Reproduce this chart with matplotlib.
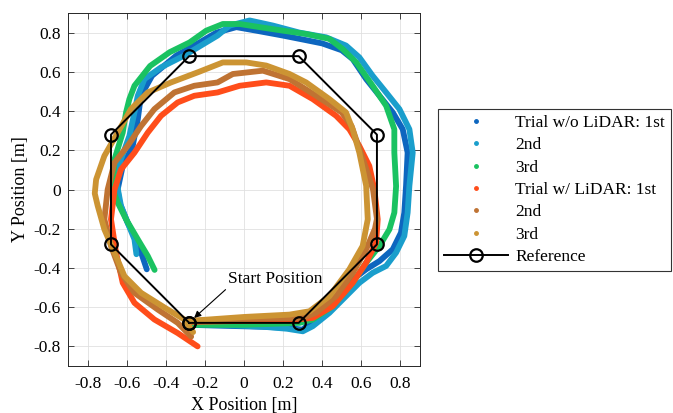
import matplotlib
matplotlib.use("Agg")
import matplotlib.pyplot as plt
from matplotlib.lines import Line2D

plt.rcParams['font.family'] = ['Liberation Serif', 'DejaVu Serif']
plt.rcParams['mathtext.fontset'] = 'stix'

# ---------------- data ----------------
wo1_x = [-0.28, -0.10, 0.10, 0.22, 0.30, 0.403, 0.488, 0.556, 0.625, 0.693, 0.761, 0.803, 0.82, 0.829,
         0.837, 0.812, 0.761, 0.693, 0.625, 0.556, 0.50, 0.40, 0.30, 0.199, 0.063, -0.039, -0.141, -0.227,
         -0.346, -0.47, -0.527, -0.543, -0.569, -0.62, -0.646, -0.637, -0.595, -0.543, -0.497]
wo1_y = [-0.69, -0.695, -0.70, -0.705, -0.715, -0.621, -0.527, -0.459, -0.407, -0.365, -0.305, -0.22, -0.118, 0.02,
         0.188, 0.307, 0.393, 0.478, 0.563, 0.665, 0.71, 0.745, 0.765, 0.785, 0.81, 0.828, 0.80, 0.75,
         0.683, 0.58, 0.478, 0.358, 0.222, 0.12, 0.0, -0.066, -0.169, -0.271, -0.407]

wo2_x = [-0.28, -0.10, 0.10, 0.22, 0.301, 0.352, 0.437, 0.522, 0.59, 0.658, 0.727, 0.778, 0.82, 0.837,
         0.846, 0.863, 0.846, 0.795, 0.727, 0.658, 0.59, 0.522, 0.42, 0.284, 0.148, 0.029, -0.073, -0.135,
         -0.22, -0.305, -0.424, -0.509, -0.543, -0.56, -0.586, -0.629, -0.654, -0.629, -0.595, -0.56, -0.55]
wo2_y = [-0.685, -0.69, -0.70, -0.71, -0.723, -0.697, -0.629, -0.544, -0.476, -0.425, -0.39, -0.322, -0.237, -0.118,
         0.019, 0.188, 0.307, 0.41, 0.495, 0.58, 0.674, 0.734, 0.776, 0.80, 0.836, 0.862, 0.836, 0.785,
         0.734, 0.683, 0.623, 0.563, 0.478, 0.393, 0.273, 0.154, 0.051, -0.083, -0.169, -0.254, -0.33]

wo3_x = [-0.28, 0.0, 0.284, 0.352, 0.454, 0.556, 0.625, 0.693, 0.744, 0.769, 0.778, 0.769, 0.769, 0.727,
         0.658, 0.574, 0.505, 0.437, 0.318, 0.199, 0.08, -0.022, -0.108, -0.193, -0.278, -0.38, -0.48,
         -0.56, -0.586, -0.603, -0.62, -0.662, -0.671, -0.646, -0.603, -0.543, -0.492, -0.457]
wo3_y = [-0.69, -0.69, -0.68, -0.663, -0.595, -0.476, -0.373, -0.288, -0.203, -0.118, 0.017, 0.188, 0.307, 0.427,
         0.529, 0.648, 0.716, 0.768, 0.793, 0.81, 0.828, 0.844, 0.844, 0.81, 0.75, 0.70, 0.63,
         0.529, 0.461, 0.393, 0.29, 0.154, 0.0, -0.066, -0.152, -0.254, -0.339, -0.41]

w1_x = [-0.28, 0.0, 0.25, 0.352, 0.454, 0.556, 0.625, 0.676, 0.684, 0.667, 0.641, 0.59, 0.539, 0.471,
        0.352, 0.233, 0.114, -0.022, -0.135, -0.254, -0.339, -0.424, -0.492, -0.56, -0.629, -0.662, -0.68,
        -0.654, -0.62, -0.56, -0.458, -0.339, -0.237]
w1_y = [-0.675, -0.67, -0.665, -0.655, -0.595, -0.476, -0.373, -0.271, -0.152, 0.0, 0.12, 0.222, 0.307, 0.376,
        0.461, 0.529, 0.546, 0.529, 0.495, 0.478, 0.444, 0.376, 0.29, 0.188, 0.102, 0.0, -0.152,
        -0.322, -0.476, -0.578, -0.663, -0.732, -0.80]

w2_x = [-0.28, 0.0, 0.301, 0.369, 0.471, 0.556, 0.625, 0.67, 0.68, 0.66, 0.62, 0.585, 0.55, 0.50, 0.369,
        0.233, 0.097, -0.057, -0.135, -0.254, -0.356, -0.458, -0.526, -0.595, -0.662, -0.697, -0.714, -0.68,
        -0.629, -0.56, -0.441, -0.339, -0.27]
w2_y = [-0.67, -0.66, -0.655, -0.629, -0.544, -0.425, -0.305, -0.20, -0.15, 0.0, 0.12, 0.222, 0.324, 0.393, 0.478,
        0.563, 0.606, 0.589, 0.546, 0.529, 0.495, 0.41, 0.324, 0.222, 0.137, 0.0, -0.152, -0.288,
        -0.425, -0.527, -0.612, -0.68, -0.75]

w3_x = [-0.28, 0.0, 0.233, 0.335, 0.437, 0.539, 0.607, 0.633, 0.625, 0.59, 0.556, 0.522, 0.437, 0.318,
        0.233, 0.114, 0.012, -0.108, -0.23, -0.373, -0.492, -0.578, -0.646, -0.714, -0.756, -0.763, -0.748,
        -0.714, -0.662, -0.611, -0.526, -0.39, -0.305, -0.26]
w3_y = [-0.67, -0.65, -0.638, -0.621, -0.544, -0.407, -0.288, -0.152, 0.019, 0.188, 0.307, 0.393, 0.461, 0.546,
        0.589, 0.632, 0.648, 0.648, 0.60, 0.546, 0.495, 0.41, 0.29, 0.171, 0.051, -0.02, -0.083,
        -0.203, -0.322, -0.442, -0.527, -0.612, -0.663, -0.727]

ref_x = [-0.28, 0.28, 0.68, 0.68, 0.28, -0.28, -0.68, -0.68, -0.28]
ref_y = [-0.68, -0.68, -0.28, 0.28, 0.68, 0.68, 0.28, -0.28, -0.68]

labels = ['Trial w/o LiDAR: 1st', '2nd', '3rd', 'Trial w/ LiDAR: 1st', '2nd', '3rd']
colors = [(0.05, 0.40, 0.75), (0.10, 0.62, 0.80), (0.10, 0.76, 0.38),
          (1.00, 0.30, 0.10), (0.75, 0.45, 0.20), (0.80, 0.58, 0.20)]
series = [(wo1_x, wo1_y), (wo2_x, wo2_y), (wo3_x, wo3_y),
          (w1_x, w1_y), (w2_x, w2_y), (w3_x, w3_y)]

ticks = [-0.8, -0.6, -0.4, -0.2, 0, 0.2, 0.4, 0.6, 0.8]
tick_labels = ['-0.8', '-0.6', '-0.4', '-0.2', '0', '0.2', '0.4', '0.6', '0.8']

# ---------------- figure ----------------
fig = plt.figure(figsize=(6.73, 4.13), dpi=100)
ax = fig.add_axes([0.101, 0.1138, 0.523, 0.8547])

for (xs, ys), c in zip(series, colors):
    ax.plot(xs, ys, color=c, lw=4.2, solid_joinstyle='round', solid_capstyle='round', zorder=2)

ax.plot(ref_x, ref_y, color='black', lw=1.4, marker='o', markersize=9,
        markerfacecolor='none', markeredgewidth=1.6, zorder=3)

ax.annotate('Start Position', xy=(-0.255, -0.655), xytext=(-0.08, -0.457),
            fontsize=12.5, ha='left', va='center',
            arrowprops=dict(arrowstyle='-|>', color='black', lw=0.8, shrinkA=0, shrinkB=0,
                            mutation_scale=10, relpos=(0.0, 0.0)), zorder=4)

ax.set_xlim(-0.9, 0.9)
ax.set_ylim(-0.9, 0.9)
ax.set_xticks(ticks)
ax.set_xticklabels(tick_labels)
ax.set_yticks(ticks)
ax.set_yticklabels(tick_labels)
ax.tick_params(direction='in', length=4, width=0.6, top=True, right=True,
               labelsize=12.5, colors=(0.15, 0.15, 0.15), labelcolor='black')
ax.tick_params(axis='x', pad=7)
ax.tick_params(axis='y', pad=5)
ax.grid(True, color=(0.88, 0.88, 0.88), lw=0.6)
ax.set_axisbelow(True)
for s in ax.spines.values():
    s.set_color((0.15, 0.15, 0.15))
    s.set_linewidth(0.7)
ax.set_xlabel('X Position [m]', fontsize=13, labelpad=4)
ax.set_ylabel('Y Position [m]', fontsize=13, labelpad=3)

handles = [Line2D([], [], ls='none', marker='.', markersize=5, color=c) for c in colors]
handles.append(Line2D([], [], color='black', lw=1.4, marker='o', markersize=9,
                      markerfacecolor='none', markeredgewidth=1.6))
leg = fig.legend(handles, labels + ['Reference'], loc='upper left',
                 bbox_to_anchor=(0.651, 0.737), bbox_transform=fig.transFigure,
                 fontsize=12.5, frameon=True, fancybox=False, framealpha=1,
                 edgecolor=(0.2, 0.2, 0.2), handlelength=3.7, handletextpad=0.4,
                 labelspacing=0.36, borderpad=0.35, borderaxespad=0)
leg.get_frame().set_linewidth(0.8)

fig.savefig('out.png', dpi=100)
